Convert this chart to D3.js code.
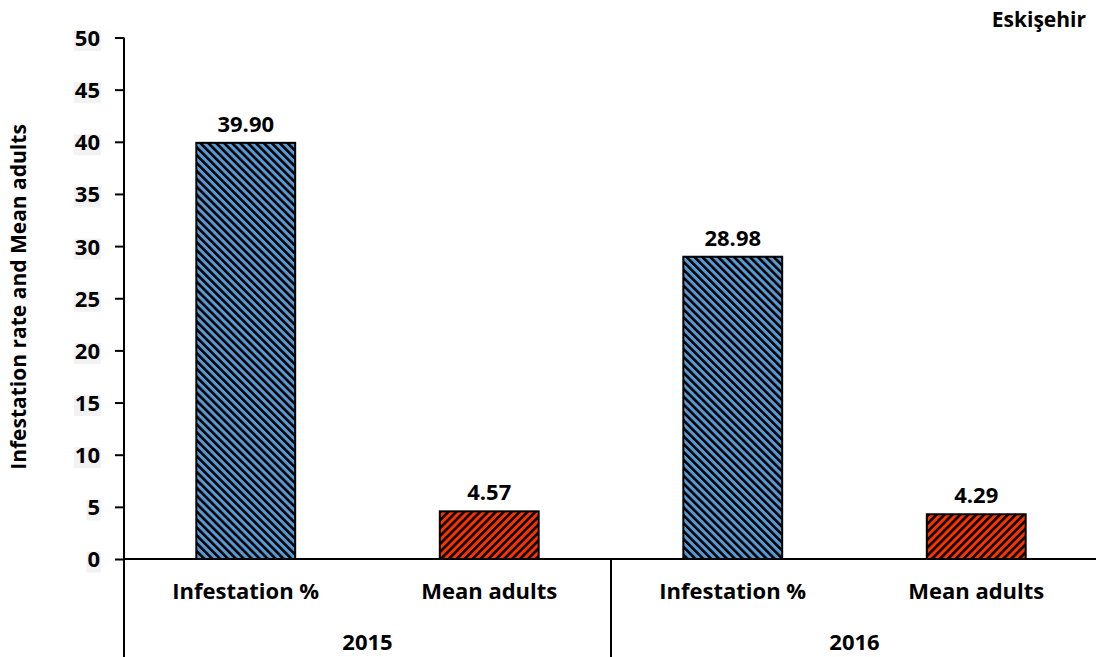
<!DOCTYPE html>
<html>
<head>
<meta charset="utf-8">
<script src="https://cdn.jsdelivr.net/npm/d3@7"></script>
<style>
  html, body { margin: 0; padding: 0; background: #fff; }
  svg { display: block; font-family: "Open Sans", "Noto Sans", sans-serif; font-weight: 700; }
</style>
</head>
<body>
<svg id="chart" width="1096" height="657"></svg>
<script>
// Chart data
const years = ["2015", "2016"];
const measures = ["Infestation %", "Mean adults"];
const values2015 = [39.90, 4.57];
const values2016 = [28.98, 4.29];
const yTicks = [0, 5, 10, 15, 20, 25, 30, 35, 40, 45, 50];
const title = "Eskişehir";
const yTitle = "Infestation rate and Mean adults";

const seriesValues = [values2015, values2016];
const rows = [];
years.forEach((yr, i) => {
  measures.forEach((m, j) => {
    rows.push({ key: yr + "|" + m, year: yr, measure: m, value: seriesValues[i][j], kind: j });
  });
});

const svg = d3.select("#chart");
const W = 1096, H = 657;
const margin = { left: 124, right: -2, top: 37.5, bottom: 98 };
const x0 = margin.left, x1 = W - margin.right;
const yBase = H - margin.bottom;

// Hatch patterns: diagonal black stripes over the series colour
const defs = svg.append("defs");
const HP = 5.6;
function hatch(id, fill, dir) {
  const p = defs.append("pattern")
    .attr("id", id).attr("patternUnits", "userSpaceOnUse")
    .attr("width", HP).attr("height", HP)
    .attr("patternTransform", "rotate(" + dir + ")");
  p.append("rect").attr("width", HP).attr("height", HP).attr("fill", fill);
  p.append("rect").attr("width", HP * 0.47).attr("height", HP).attr("fill", "#000");
}
hatch("hatchBlue", "#5b9bd5", -45);
hatch("hatchRed", "#ff3300", 45);

const x = d3.scaleBand().domain(rows.map(d => d.key)).range([x0, x1]).paddingInner(0.594).paddingOuter(0.297);
const yearBand = d3.scaleBand().domain(years).range([x0, x1]);
const y = d3.scaleLinear().domain([0, 50]).range([yBase, margin.top]);

// Y axis
const yAxis = d3.axisLeft(y).tickValues(yTicks).tickSize(9).tickPadding(15).tickFormat(d3.format("d"));
const gy = svg.append("g").attr("transform", `translate(${x0},0)`).call(yAxis);
gy.select(".domain").remove();
gy.selectAll(".tick line").attr("stroke", "#000").attr("stroke-width", 2);
gy.selectAll(".tick text").attr("font-size", 22).attr("fill", "#000")
  .attr("font-family", "'Open Sans', sans-serif").attr("font-weight", 700)
  .attr("dy", "0.36em");
gy.selectAll(".tick").each(function () {
  const g = d3.select(this);
  const bb = g.select("text").node().getBBox();
  g.insert("rect", "text")
    .attr("x", bb.x - 1).attr("y", -8)
    .attr("width", bb.width + 2).attr("height", 21)
    .attr("fill", "#f2f2f2");
});

// Vertical axis line, extended through the category area
svg.append("line").attr("x1", x0).attr("x2", x0).attr("y1", margin.top).attr("y2", H)
  .attr("stroke", "#000").attr("stroke-width", 2);

// Bars
svg.append("g").selectAll("rect").data(rows).join("rect")
  .attr("x", d => x(d.key))
  .attr("width", x.bandwidth())
  .attr("y", d => y(d.value))
  .attr("height", d => y(0) - y(d.value))
  .attr("fill", d => d.kind === 0 ? "url(#hatchBlue)" : "url(#hatchRed)")
  .attr("stroke", "#000").attr("stroke-width", 2);

// Baseline
svg.append("line").attr("x1", x0).attr("x2", x1).attr("y1", y(0)).attr("y2", y(0))
  .attr("stroke", "#000").attr("stroke-width", 2);

// Year divider
svg.append("line").attr("x1", yearBand("2016")).attr("x2", yearBand("2016"))
  .attr("y1", y(0)).attr("y2", H).attr("stroke", "#000").attr("stroke-width", 2);

// Value labels
svg.append("g").selectAll("text").data(rows).join("text")
  .attr("x", d => x(d.key) + x.bandwidth() / 2)
  .attr("y", d => y(d.value) - 11)
  .attr("text-anchor", "middle").attr("font-size", 22).attr("fill", "#000")
  .text(d => d.value.toFixed(2));

// Measure labels
svg.append("g").selectAll("text").data(rows).join("text")
  .attr("x", d => x(d.key) + x.bandwidth() / 2)
  .attr("y", yBase + 40)
  .attr("text-anchor", "middle").attr("font-size", 22).attr("fill", "#000")
  .text(d => d.measure);

// Year labels
svg.append("g").selectAll("text").data(years).join("text")
  .attr("x", d => yearBand(d) + yearBand.bandwidth() / 2)
  .attr("y", yBase + 91)
  .attr("text-anchor", "middle").attr("font-size", 22).attr("fill", "#000")
  .text(d => d);

// Y title
svg.append("text").attr("transform", `translate(26,297) rotate(-90)`)
  .attr("text-anchor", "middle").attr("font-size", 21).attr("fill", "#000")
  .text(yTitle);

// Title
svg.append("text").attr("x", 1086).attr("y", 27).attr("text-anchor", "end")
  .attr("font-size", 21).attr("fill", "#000").text(title);
</script>
</body>
</html>
